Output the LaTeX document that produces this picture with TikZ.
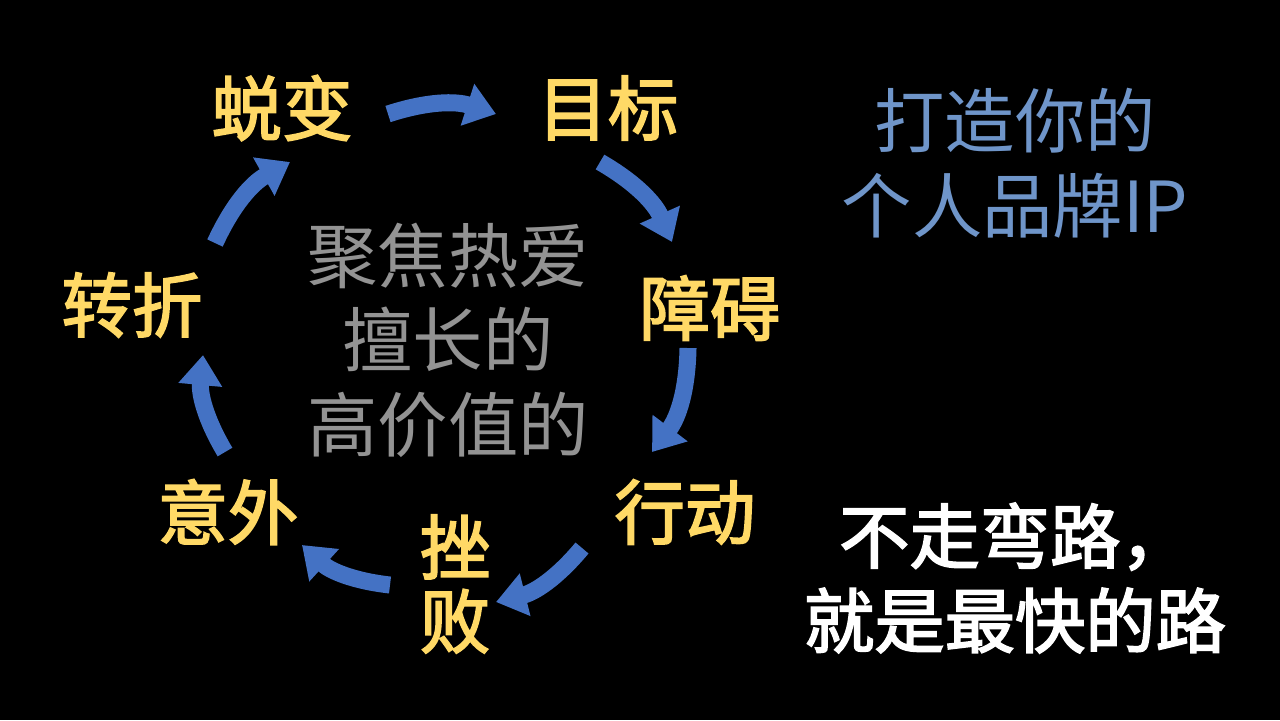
\documentclass[tikz,border=0pt]{standalone}
\usepackage{fontspec}
\usetikzlibrary{arrows.meta}
\newfontfamily\cjk{Noto Sans CJK SC}
\newfontfamily\cjkb[FakeBold=2.5]{Noto Sans CJK SC}
\definecolor{stepyellow}{HTML}{FFD966}
\definecolor{arrowblue}{HTML}{4472C4}
\definecolor{titleblue}{HTML}{6F95C9}

\begin{document}
\begin{tikzpicture}[x=0.01cm, y=-0.01cm]
    % styles
    \tikzset{
        stepname/.style={text=stepyellow, font=\cjkb\fontsize{20}{22}\selectfont, inner sep=0pt},
        cyclearrow/.style={draw=arrowblue, line width=0.17cm, -{Triangle[length=0.3cm, width=0.42cm]}, bend left=18},
    }
    \fill[black] (0,0) rectangle (1280,720);

    % the steps of the cycle
    \node[stepname] (molt) at (282,108) {蜕变};
    \node[stepname] (goal) at (608,108) {目标};
    \node[stepname] (block) at (710,308) {障碍};
    \node[stepname] (act) at (685,512) {行动};
    \node[stepname, align=center, font=\cjkb\fontsize{20}{21}\selectfont] (fail) at (455,584) {挫\\败};
    \node[stepname] (accident) at (228,512) {意外};
    \node[stepname] (turn) at (132,305) {转折};

    % centre text
    \node[text=gray!85, align=center, font=\cjk\fontsize{20}{24}\selectfont] (core) at (448,340) {聚焦热爱\\擅长的\\高价值的};

    % right side texts
    \node[text=titleblue, align=center, font=\cjk\fontsize{20}{24}\selectfont] (brand) at (1015,163) {打造你的\\个人品牌IP};
    \node[text=white, align=center, font=\cjkb\fontsize{20}{24}\selectfont] (motto) at (1015,578) {不走弯路，\\就是最快的路};

    % arrows around the cycle
    \coordinate (a1) at (388,114);  \coordinate (b1) at (496,114);
    \coordinate (a2) at (600,162);  \coordinate (b2) at (672,242);
    \coordinate (a3) at (688,348);  \coordinate (b3) at (652,452);
    \coordinate (a4) at (582,548);  \coordinate (b4) at (496,602);
    \coordinate (a5) at (390,585);  \coordinate (b5) at (302,545);
    \coordinate (a6) at (225,452);  \coordinate (b6) at (203,355);
    \coordinate (a7) at (215,243);  \coordinate (b7) at (290,162);
    \foreach \s/\e in {a1/b1, a2/b2, a3/b3, a4/b4, a5/b5, a6/b6, a7/b7} {
        \draw[cyclearrow] (\s) to (\e);
    }
\end{tikzpicture}
\end{document}
